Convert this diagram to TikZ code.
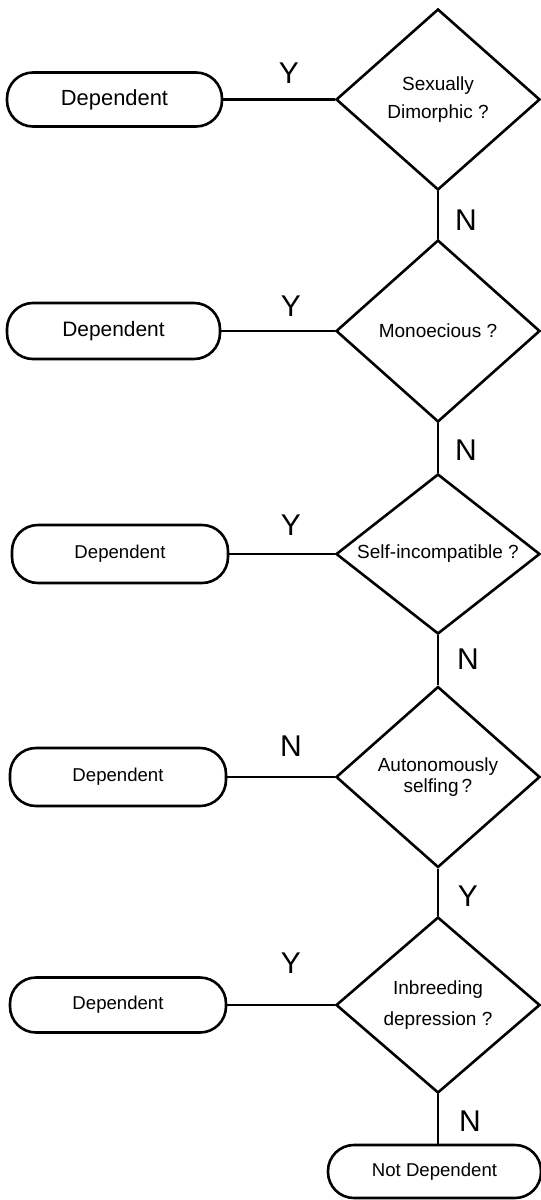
\documentclass[tikz,border=0pt]{standalone}
\usepackage{fontspec}
\setmainfont{Liberation Sans}
\usetikzlibrary{shapes.geometric}
\begin{document}
\begin{tikzpicture}[x=1pt,y=-1pt,
  ln/.style={line width=2.6pt},
  dia/.style={diamond, draw, ln, inner sep=0pt, aspect=1.3, minimum width=204pt, align=center, font=\fontsize{19}{28}\selectfont},
  term/.style={rectangle, rounded corners=26pt, draw, ln, inner sep=0pt, font=\fontsize{18.6}{22}\selectfont},
  yn/.style={inner sep=0pt, font=\fontsize{30}{30}\selectfont}]
\useasboundingbox (0,0) rectangle (541,1200);

% decisions
\node[dia, minimum height=181pt] (d1) at (438,99.5) {Sexually\\Dimorphic ?};
\node[dia, minimum height=182pt] (d2) at (438,331) {Monoecious ?};
\node[dia, minimum height=160pt] (d3) at (438,554) {Self-incompatible ?};
\node[dia, minimum height=181pt, font=\fontsize{19}{21}\selectfont] (d4) at (438,777) {Autonomously\\selfing\,?};
\node[dia, minimum height=176pt, font=\fontsize{19}{31}\selectfont] (d5) at (438,1005) {Inbreeding\\depression ?};

% terminals
\node[term, minimum width=215pt, minimum height=54pt, font=\fontsize{21.9}{24}\selectfont] (b1) at (114.5,99.5) {Dependent};
\node[term, minimum width=213pt, minimum height=56pt, font=\fontsize{20.9}{24}\selectfont] (b2) at (113.5,331) {Dependent};
\node[term, minimum width=216pt, minimum height=58pt] (b3) at (120,554) {Dependent};
\node[term, minimum width=216pt, minimum height=58pt] (b4) at (118,777) {Dependent};
\node[term, minimum width=216pt, minimum height=55pt] (b5) at (118,1005) {Dependent};
\node[term, minimum width=213pt, minimum height=53pt] (nd) at (434.5,1171.5) {Not Dependent};

% connectors
\draw[ln] (b1.east) -- (d1.west);
\draw[ln] (b2.east) -- (d2.west);
\draw[ln] (b3.east) -- (d3.west);
\draw[ln] (b4.east) -- (d4.west);
\draw[ln] (b5.east) -- (d5.west);
\draw[ln] (d1.south) -- (d2.north);
\draw[ln] (d2.south) -- (d3.north);
\draw[ln] (d3.south) -- (d4.north);
\draw[ln] (d4.south) -- (d5.north);
\draw[ln] (d5.south) -- (d5.south |- nd.north);

% branch labels
\node[yn] (l1) at (289,73) {Y};
\node[yn] (l2) at (291,306) {Y};
\node[yn] (l3) at (291,525) {Y};
\node[yn] (l4) at (291,746) {N};
\node[yn] (l5) at (291,963) {Y};
\node[yn] (v1) at (466,220) {N};
\node[yn] (v2) at (466,450) {N};
\node[yn] (v3) at (468,659) {N};
\node[yn] (v4) at (468,896) {Y};
\node[yn] (v5) at (470,1121) {N};
\end{tikzpicture}
\end{document}
